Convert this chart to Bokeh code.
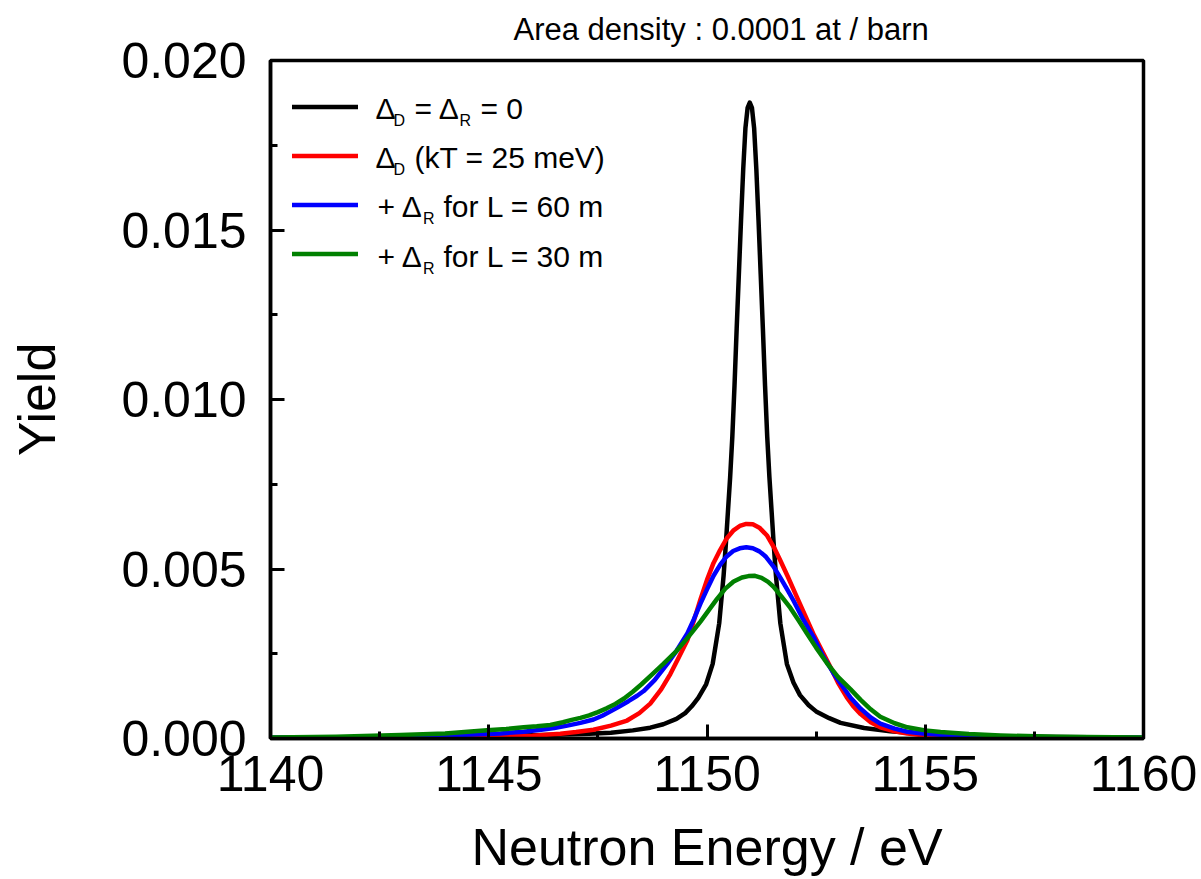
from bokeh.plotting import figure
from bokeh.models import (Range1d, SingleIntervalTicker, PrintfTickFormatter,
                          Legend, LegendItem, Label)
from bokeh.embed import file_html
from bokeh.resources import INLINE

# ---------------- data ----------------
black_e = [1140.0, 1142.0, 1144.0, 1145.5, 1146.5, 1147.3, 1147.8, 1148.3, 1148.7,
           1149.0, 1149.3, 1149.5, 1149.65, 1149.8, 1149.98, 1150.13, 1150.28, 1150.38,
           1150.43, 1150.48, 1150.53, 1150.58, 1150.63, 1150.68, 1150.73, 1150.78,
           1150.83, 1150.88, 1150.93, 1150.98, 1151.03, 1151.08, 1151.13, 1151.18,
           1151.23, 1151.28, 1151.33, 1151.38, 1151.43, 1151.48, 1151.53, 1151.58,
           1151.68, 1151.83, 1151.98, 1152.13, 1152.33, 1152.5, 1152.8, 1153.06,
           1153.6, 1154.2, 1155.0, 1156.0, 1157.5, 1160.0]
black_y = [0.00002, 0.00003, 0.00005, 0.00008, 0.00011, 0.00014, 0.00017, 0.00024, 0.00032,
           0.00042, 0.00058, 0.00075, 0.00095, 0.00120, 0.00160, 0.00220, 0.00340, 0.00480,
           0.00570, 0.00670, 0.00770, 0.00890, 0.01040, 0.01210, 0.01370, 0.01530,
           0.01680, 0.01800, 0.01860, 0.01876, 0.01860, 0.01800, 0.01680, 0.01530,
           0.01370, 0.01210, 0.01040, 0.00890, 0.00770, 0.00670, 0.00570, 0.00480,
           0.00340, 0.00220, 0.00165, 0.00128, 0.00098, 0.00080, 0.00060, 0.00046,
           0.00031, 0.00021, 0.00013, 0.00008, 0.00005, 0.00002]

red_e = [1140.0, 1143.0, 1145.0, 1146.0, 1146.64, 1147.0, 1147.4, 1147.8, 1148.17,
         1148.45, 1148.7, 1148.95, 1149.16, 1149.35, 1149.55, 1149.7, 1149.85, 1150.0,
         1150.15, 1150.3, 1150.45, 1150.6, 1150.75, 1150.9, 1151.05, 1151.2, 1151.38,
         1151.55, 1151.68, 1151.85, 1152.06, 1152.25, 1152.45, 1152.65, 1152.83, 1153.0,
         1153.2, 1153.35, 1153.52, 1153.75, 1153.97, 1154.3, 1154.59, 1155.0, 1155.35,
         1156.5, 1158.0, 1160.0]
red_y = [0.00001, 0.00002, 0.00004, 0.00008, 0.00014, 0.00019, 0.00026, 0.00038, 0.00053,
         0.00075, 0.00103, 0.00145, 0.00190, 0.00238, 0.00290, 0.00348, 0.00410, 0.00468,
         0.00518, 0.00556, 0.00590, 0.00613, 0.00627, 0.00633, 0.00632, 0.00622, 0.00598,
         0.00560, 0.00525, 0.00478, 0.00417, 0.00362, 0.00305, 0.00255, 0.00210, 0.00165,
         0.00122, 0.00095, 0.00072, 0.00048, 0.00033, 0.00021, 0.00015, 0.00009, 0.00006,
         0.00003, 0.00002, 0.00001]

blue_e = [1140.0, 1142.0, 1143.5, 1145.27, 1145.8, 1146.2, 1146.5, 1146.8, 1147.1, 1147.4,
          1147.6, 1147.79, 1148.0, 1148.2, 1148.4, 1148.55, 1148.8, 1149.09, 1149.3,
          1149.55, 1149.7, 1149.85, 1150.0, 1150.15, 1150.3, 1150.45, 1150.6, 1150.75,
          1150.9, 1151.05, 1151.2, 1151.35, 1151.52, 1151.7, 1151.85, 1151.98, 1152.2,
          1152.45, 1152.65, 1152.9, 1153.06, 1153.29, 1153.52, 1153.75, 1153.97, 1154.3,
          1154.59, 1155.0, 1155.35, 1156.5, 1158.0, 1160.0]
blue_y = [0.00002, 0.00004, 0.00007, 0.00015, 0.00020, 0.00026, 0.00031, 0.00038, 0.00046,
          0.00056, 0.00067, 0.00080, 0.00095, 0.00110, 0.00126, 0.00140, 0.00172, 0.00220,
          0.00258, 0.00310, 0.00352, 0.00398, 0.00440, 0.00480, 0.00512, 0.00537, 0.00553,
          0.00561, 0.00564, 0.00561, 0.00552, 0.00536, 0.00508, 0.00470, 0.00437, 0.00407,
          0.00352, 0.00297, 0.00245, 0.00192, 0.00162, 0.00120, 0.00088, 0.00062, 0.00044,
          0.00029, 0.00020, 0.00014, 0.00011, 0.00006, 0.00003, 0.00002]

green_e = [1140.0, 1141.5, 1142.98, 1144.0, 1144.96, 1145.4, 1145.8, 1146.1, 1146.41,
           1146.7, 1146.9, 1147.1, 1147.3, 1147.5, 1147.7, 1147.9, 1148.1, 1148.3, 1148.5,
           1148.75, 1149.0, 1149.3, 1149.55, 1149.85, 1150.05, 1150.23, 1150.42, 1150.61,
           1150.8, 1150.95, 1151.1, 1151.25, 1151.4, 1151.52, 1151.7, 1151.91, 1152.1,
           1152.29, 1152.5, 1152.75, 1153.0, 1153.29, 1153.52, 1153.75, 1153.97, 1154.3,
           1154.59, 1155.0, 1155.35, 1156.0, 1156.72, 1158.0, 1160.0]
green_y = [0.00003, 0.00005, 0.00010, 0.00015, 0.00024, 0.00028, 0.00033, 0.00036, 0.00040,
           0.00048, 0.00055, 0.00061, 0.00068, 0.00078, 0.00089, 0.00102, 0.00118, 0.00138,
           0.00160, 0.00190, 0.00220, 0.00258, 0.00296, 0.00345, 0.00380, 0.00412, 0.00442,
           0.00463, 0.00475, 0.00479, 0.00480, 0.00474, 0.00462, 0.00448, 0.00420, 0.00385,
           0.00348, 0.00310, 0.00268, 0.00222, 0.00182, 0.00145, 0.00114, 0.00086, 0.00064,
           0.00045, 0.00033, 0.00024, 0.00019, 0.00013, 0.00009, 0.00005, 0.00003]

title_text = "Area density : 0.0001 at / barn"
x_label = "Neutron Energy / eV"
y_label = "Yield"

# legend text pieces: (text, is_subscript)
legend_rows = [
    [("\u0394", False), ("D", True), ("= \u0394", False), ("R", True), ("= 0", False)],
    [("\u0394", False), ("D", True), ("(kT = 25 meV)", False)],
    [("+ \u0394", False), ("R", True), ("for L = 60 m", False)],
    [("+ \u0394", False), ("R", True), ("for L = 30 m", False)],
]

# ---------------- figure ----------------
FONT = "Liberation Sans"
L, R, T, B = 270, 58, 60, 141
W, H = 1201, 879
FW, FH = W - L - R, H - T - B
X0, X1, Y0, Y1 = 1140, 1160, 0.0, 0.020

p = figure(width=W, height=H, output_backend="svg", toolbar_location=None,
           x_range=Range1d(X0, X1), y_range=Range1d(Y0, Y1),
           min_border_left=L, min_border_right=R, min_border_top=T, min_border_bottom=B,
           title=title_text)
p.background_fill_color = "white"
p.border_fill_color = "white"
p.outline_line_color = "black"
p.outline_line_width = 3.5
p.grid.visible = False

p.title.text_font = FONT
p.title.text_font_size = "31px"
p.title.text_font_style = "normal"
p.title.text_color = "black"
p.title.align = "left"
p.title.offset = 243
p.title.standoff = 23
p.title.vertical_align = "top"

for ax in (p.xaxis[0], p.yaxis[0]):
    ax.axis_line_width = 3.5
    ax.axis_line_color = "black"
    ax.major_tick_in = 14
    ax.major_tick_out = 0
    ax.minor_tick_in = 7
    ax.minor_tick_out = 0
    ax.major_tick_line_width = 3
    ax.minor_tick_line_width = 3
    ax.major_tick_line_color = "black"
    ax.minor_tick_line_color = "black"
    ax.major_label_text_font = FONT
    ax.major_label_text_font_size = "50px"
    ax.major_label_text_color = "black"
    ax.axis_label_text_font = FONT
    ax.axis_label_text_font_size = "52px"
    ax.axis_label_text_font_style = "normal"
    ax.axis_label_text_color = "black"

p.xaxis.ticker = SingleIntervalTicker(interval=5, num_minor_ticks=2)
p.yaxis.ticker = SingleIntervalTicker(interval=0.005, num_minor_ticks=2)
p.yaxis.formatter = PrintfTickFormatter(format="%.3f")
p.xaxis.axis_label = x_label
p.yaxis.axis_label = y_label
p.xaxis.major_label_standoff = 17
p.xaxis.axis_label_standoff = 24
p.yaxis.major_label_standoff = 24
p.yaxis.axis_label_standoff = 52

series = [(black_e, black_y, "#000000"), (red_e, red_y, "#ff0000"),
          (blue_e, blue_y, "#0000ff"), (green_e, green_y, "#008000")]
renderers = []
for e, y, c in series:
    r = p.line(e, y, line_color=c, line_width=4.5, line_join="round", line_cap="round")
    renderers.append(r)

legend = Legend(items=[LegendItem(label=" ", renderers=[r]) for r in renderers],
                location="top_left", margin=21, padding=1, spacing=0,
                glyph_width=66, glyph_height=49, label_height=49, label_width=0,
                label_standoff=0, label_text_font_size="1px",
                border_line_alpha=0, background_fill_alpha=0)
p.add_layout(legend)


def px2x(px):
    return X0 + (px - L) * (X1 - X0) / FW


def py2y(py):
    return Y0 + (T + FH - py) * (Y1 - Y0) / FH


# legend text positions (pixels): left x of each piece, baseline y of each row
row_base = [108.0, 157.0, 206.0, 255.5]
piece_x = [[375, 393, 414, 459, 480],
           [375, 393, 414],
           [377, 422.5, 443],
           [377, 422.5, 443]]
for row, base, xs in zip(legend_rows, row_base, piece_x):
    for (txt, sub), px in zip(row, xs):
        p.add_layout(Label(x=px2x(px), y=py2y(base + (12 if sub else 0)), text=txt,
                           text_font=FONT, text_font_size="16px" if sub else "30px",
                           text_color="black", text_baseline="alphabetic",
                           text_align="left"))

open("out.html", "w").write(file_html(p, INLINE))
